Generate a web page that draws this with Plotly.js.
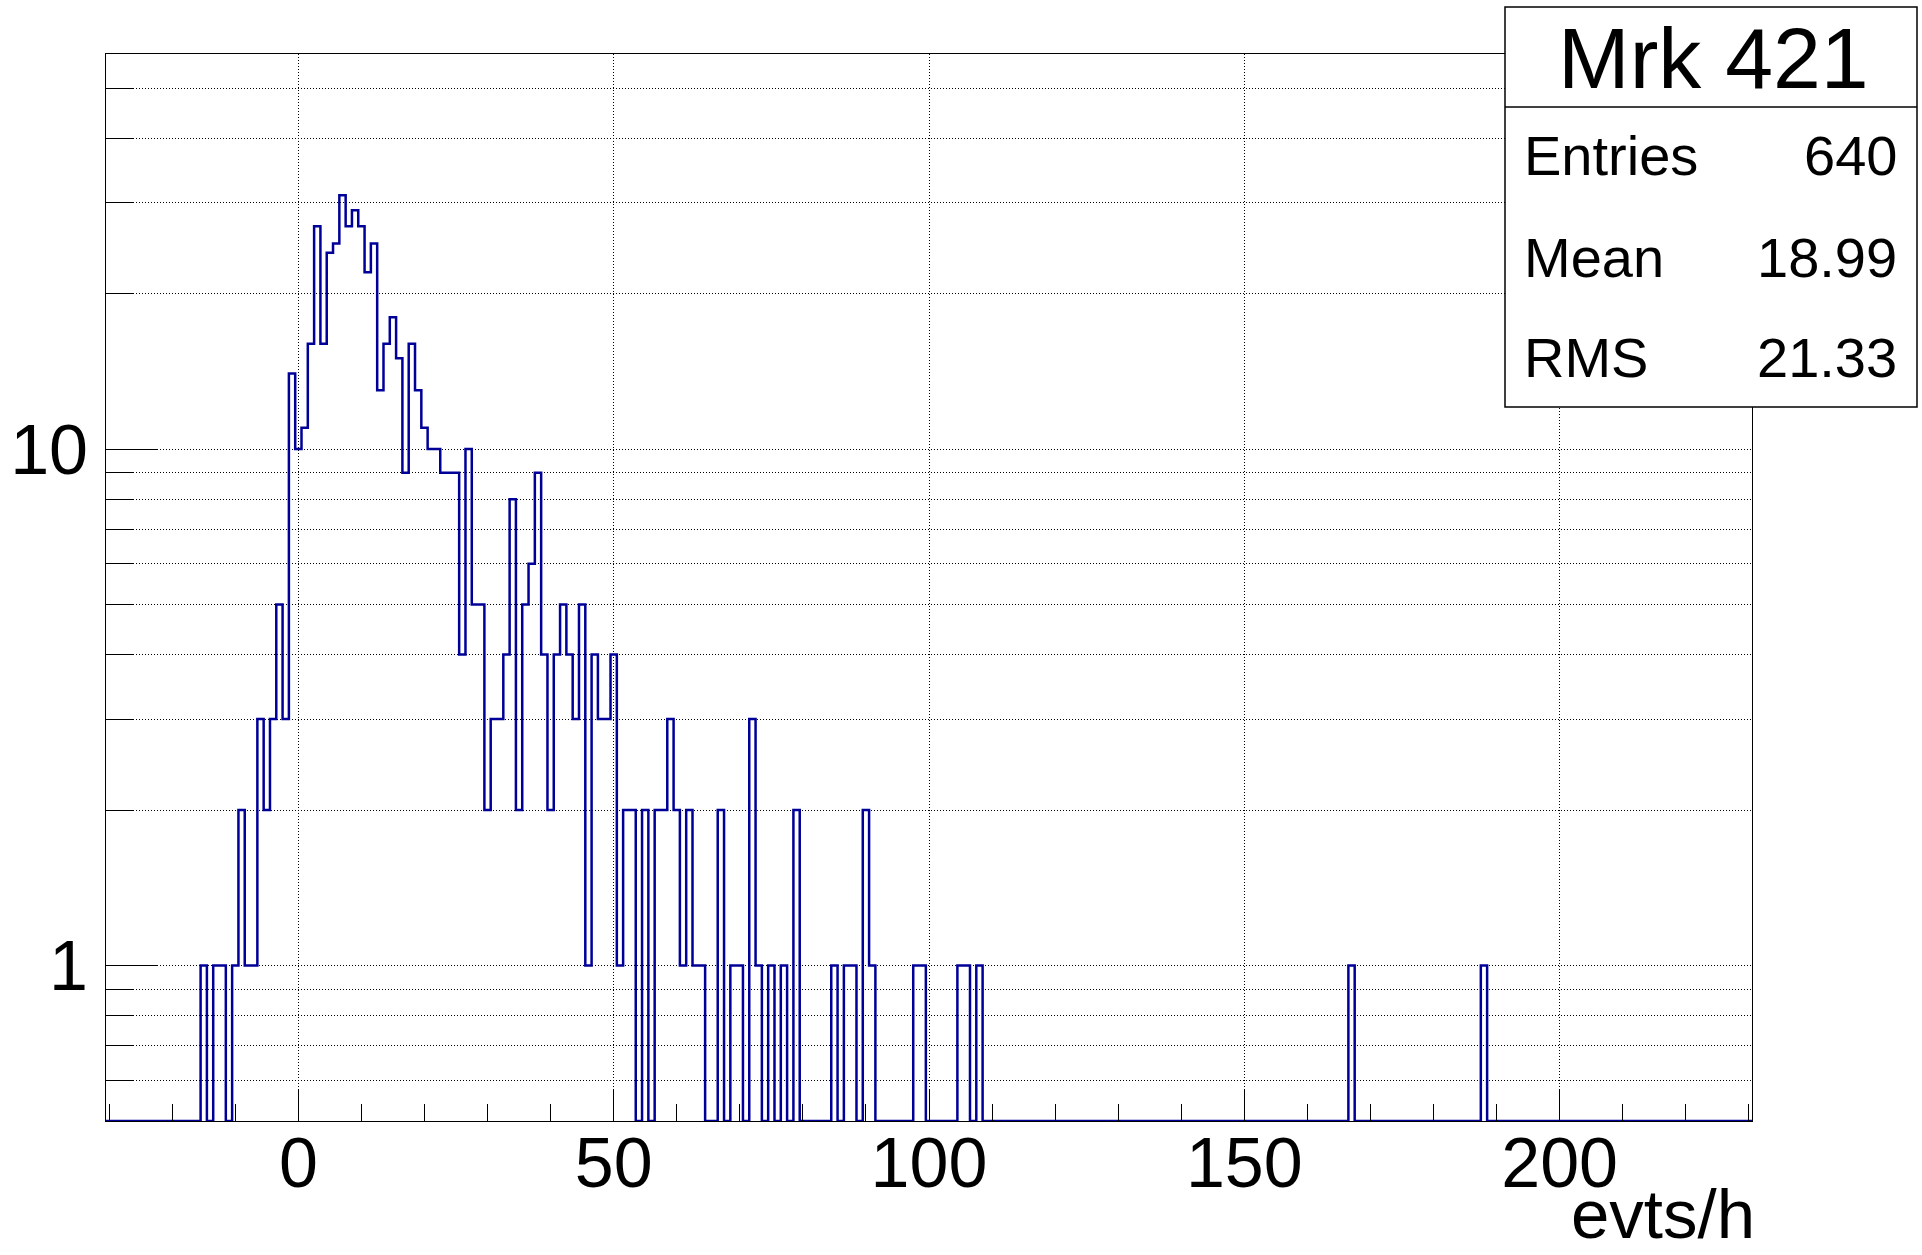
<!DOCTYPE html>
<html><head><meta charset="utf-8">
<script src="https://cdn.plot.ly/plotly-3.0.1.min.js"></script>
<style>html,body{margin:0;padding:0;background:#fff;overflow:hidden;} #chart{width:1922px;height:1255px;}</style>
</head><body><div id="chart"></div>
<script>
// ---------------- data (bin width 1, bins centred on integers) ----------------
const firstBinCenter = -30;
const lastBinCenter = 230;
// bins -30 .. -1
const countsNeg = [0,0,0,0,0,0,0,0,0,0,0,0,0,0,0,
                   1,0,1,1,0,1,2,1,1,3,2,3,5,3,14];
// bins 0 .. 49
const counts0to49 = [10,11,16,27,16,24,25,31,27,29,
                     27,22,25,13,16,18,15,9,16,13,
                     11,10,10,9,9,9,4,10,5,5,
                     2,3,3,4,8,2,5,6,9,4,
                     2,4,5,4,3,5,1,4,3,3];
// bins 50 .. 108
const counts50to108 = [4,1,2,2,0,2,0,2,2,3,
                       2,1,2,1,1,0,0,2,0,1,
                       1,0,3,1,0,1,0,1,0,2,
                       0,0,0,0,0,1,0,1,1,0,
                       2,1,0,0,0,0,0,0,1,1,
                       0,0,0,0,0,1,1,0,1];
// isolated far-tail bins
const tailBins = [167, 188];
const tailCounts = [1, 1];

const xTickVals = [0, 50, 100, 150, 200];
const yTickVals = [1, 10];
const yTickText = ['1', '10'];
const yMinorVals = [0.6,0.7,0.8,0.9,2,3,4,5,6,7,8,9,20,30,40,50];
const statsTitle = 'Mrk 421';
const statsLabels = ['Entries', 'Mean', 'RMS'];
const statsValues = ['640', '18.99', '21.33'];
const xTitle = 'evts/h';

// ---------------- build histogram ----------------
const nBins = lastBinCenter - firstBinCenter + 1;
const counts = new Array(nBins).fill(0);
countsNeg.forEach((c, i) => { counts[i] = c; });
counts0to49.forEach((c, i) => { counts[(0 - firstBinCenter) + i] = c; });
counts50to108.forEach((c, i) => { counts[(50 - firstBinCenter) + i] = c; });
tailBins.forEach((b, i) => { counts[b - firstBinCenter] = tailCounts[i]; });

const yFloor = 0.5;               // bottom of the log axis
const yTop = Math.pow(10, 1.765);
const xs = [], ys = [];
for (let i = 0; i < nBins; i++) {
  xs.push(firstBinCenter + i - 0.5);
  ys.push(counts[i] > 0 ? counts[i] : yFloor);
}
xs.push(lastBinCenter + 0.5);
ys.push(counts[nBins - 1] > 0 ? counts[nBins - 1] : yFloor);

// ---------------- layout helpers ----------------
const W = 1922, H = 1255;
const L = 106, R = 1752, T = 54, B = 1121;
const px = x => (x - L) / (R - L);
const py = y => (B - y) / (B - T);
const FONT = 'Liberation Sans, Arial, Helvetica, sans-serif';
const gridDash = '1px,2px';

const trace = {
  type: 'scatter', mode: 'lines',
  x: xs, y: ys,
  line: { shape: 'hv', color: '#000099', width: 2.5 },
  hoverinfo: 'skip'
};

const annotations = [
  { text: statsTitle, x: px(1713), y: py(58), xanchor: 'center', yanchor: 'middle',
    font: { size: 86, color: '#000', family: FONT } },
  { text: xTitle, x: px(1756), y: py(1254), xanchor: 'right', yanchor: 'bottom',
    font: { size: 69, color: '#000', family: FONT } }
];
const rowY = [156, 257, 357];
statsLabels.forEach((lab, i) => {
  annotations.push({ text: lab, x: px(1523), y: py(rowY[i]), xanchor: 'left', yanchor: 'middle',
    font: { size: 56, color: '#000', family: FONT } });
  annotations.push({ text: statsValues[i], x: px(1898), y: py(rowY[i]), xanchor: 'right', yanchor: 'middle',
    font: { size: 56, color: '#000', family: FONT } });
});
annotations.forEach(a => { a.xref = 'paper'; a.yref = 'paper'; a.showarrow = false; a.borderpad = 0; });

const layout = {
  width: W, height: H,
  margin: { l: L, r: W - R, t: T, b: H - B, pad: 0 },
  paper_bgcolor: '#fff', plot_bgcolor: '#fff',
  showlegend: false,
  font: { family: FONT, color: '#000' },
  xaxis: {
    range: [firstBinCenter - 0.5, lastBinCenter + 0.5],
    tickmode: 'array', tickvals: xTickVals,
    ticks: 'inside', ticklen: 32, tickwidth: 1, tickcolor: '#000',
    tickfont: { size: 70, family: FONT, color: '#000' },
    ticklabelstandoff: -19,
    showgrid: true, gridcolor: '#000', gridwidth: 1, griddash: gridDash,
    zeroline: false, showline: true, mirror: true, linecolor: '#000', linewidth: 1,
    minor: { tickmode: 'linear', tick0: 0, dtick: 10, ticks: 'inside', ticklen: 17,
             tickwidth: 1, tickcolor: '#000', showgrid: false },
    fixedrange: true
  },
  yaxis: {
    type: 'log',
    range: [Math.log10(yFloor), Math.log10(yTop)],
    tickmode: 'array', tickvals: yTickVals, ticktext: yTickText,
    ticks: 'inside', ticklen: 51, tickwidth: 1, tickcolor: '#000',
    tickfont: { size: 70, family: FONT, color: '#000' },
    ticklabelstandoff: 3,
    showgrid: true, gridcolor: '#000', gridwidth: 1, griddash: gridDash,
    zeroline: false, showline: true, mirror: true, linecolor: '#000', linewidth: 1,
    minor: { tickmode: 'array', tickvals: yMinorVals, ticks: 'inside', ticklen: 27,
             tickwidth: 1, tickcolor: '#000', showgrid: true, gridcolor: '#000',
             gridwidth: 1, griddash: gridDash },
    fixedrange: true
  },
  shapes: [
    { type: 'rect', xref: 'paper', yref: 'paper', layer: 'above',
      x0: px(1505), x1: px(1917), y0: py(407), y1: py(7),
      fillcolor: '#fff', line: { color: '#000', width: 1.5 } },
    { type: 'line', xref: 'paper', yref: 'paper', layer: 'above',
      x0: px(1505), x1: px(1917), y0: py(107), y1: py(107),
      line: { color: '#000', width: 1.5 } }
  ],
  annotations: annotations
};

Plotly.newPlot('chart', [trace], layout, { staticPlot: true, displayModeBar: false });
</script>
</body></html>
